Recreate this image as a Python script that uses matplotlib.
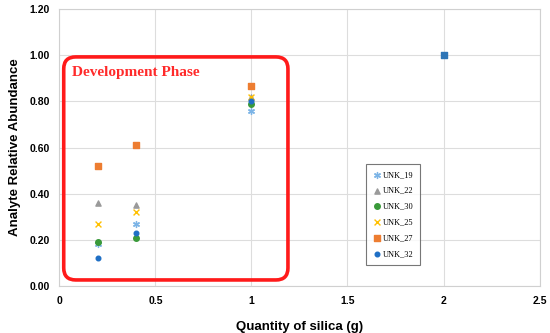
import matplotlib
matplotlib.use("Agg")
import matplotlib.pyplot as plt
from matplotlib.patches import FancyBboxPatch

# silica quantity (g)
silica = [0.2, 0.4, 1.0]

unk_19 = [0.18, 0.27, 0.76]
unk_22 = [0.36, 0.35, 0.82]
unk_30 = [0.19, 0.21, 0.79]
unk_25 = [0.27, 0.32, 0.82]
unk_27 = [0.52, 0.61, 0.865]
unk_32 = [0.12, 0.23, 0.80]

ref_x = [2.0]
ref_y = [1.0]

xticks = [0, 0.5, 1, 1.5, 2, 2.5]
xtick_labels = ["0", "0.5", "1", "1.5", "2", "2.5"]
yticks = [0.0, 0.2, 0.4, 0.6, 0.8, 1.0, 1.2]
ytick_labels = ["0.00", "0.20", "0.40", "0.60", "0.80", "1.00", "1.20"]

fig = plt.figure(figsize=(5.5, 3.33), dpi=100)
ax = fig.add_axes([0.108, 0.141, 0.873, 0.832])

series = [
    ("UNK_19", unk_19, dict(marker=(6, 2, 0), color="#7cb4e6", s=18, linewidths=1.0)),
    ("UNK_22", unk_22, dict(marker="^", color="#9a9a9a", s=14)),
    ("UNK_30", unk_30, dict(marker="o", color="#3a9a3a", s=16)),
    ("UNK_25", unk_25, dict(marker="x", color="#ffc000", s=18, linewidths=1.0)),
    ("UNK_27", unk_27, dict(marker="s", color="#ed7d31", s=14)),
    ("UNK_32", unk_32, dict(marker="o", color="#1f6fc5", s=11)),
]
for name, vals, style in series:
    ax.scatter(silica, vals, label=name, zorder=3, **style)

ax.scatter(ref_x, ref_y, marker="s", color="#2e75b6", s=14, zorder=3)

ax.set_xlim(0, 2.5)
ax.set_ylim(0, 1.2)
ax.set_xticks(xticks)
ax.set_xticklabels(xtick_labels)
ax.set_yticks(yticks)
ax.set_yticklabels(ytick_labels)
ax.grid(True, color="#dddddd", linewidth=0.8)
ax.set_axisbelow(True)
for sp in ax.spines.values():
    sp.set_color("#d0d0d0")
ax.tick_params(length=0, pad=7, labelsize=7.5)
for lab in ax.get_xticklabels() + ax.get_yticklabels():
    lab.set_fontweight("bold")
    lab.set_fontfamily("Liberation Sans")

ax.set_xlabel("Quantity of silica (g)", fontsize=9.5, fontweight="bold",
              fontfamily="Liberation Sans", labelpad=11)
ax.set_ylabel("Analyte Relative Abundance", fontsize=9.5, fontweight="bold",
              fontfamily="Liberation Sans", labelpad=6)

# red rounded box around the development phase
box = FancyBboxPatch((0.009, 0.022), 0.467, 0.805, transform=ax.transAxes,
                     boxstyle="round,pad=0,rounding_size=0.025",
                     mutation_aspect=480 / 277, fill=False,
                     edgecolor="#ff1a1a", linewidth=2.6, zorder=4)
ax.add_patch(box)
ax.text(0.027, 0.772, "Development Phase", transform=ax.transAxes,
        color="#ff2a2a", fontsize=11, fontweight="bold",
        fontfamily="Liberation Serif", va="center", ha="left")

leg = ax.legend(loc="upper left", bbox_to_anchor=(0.638, 0.44),
                prop={"family": "Liberation Serif", "size": 6},
                frameon=True, fancybox=False, edgecolor="#555555",
                labelspacing=0.95, handletextpad=0.2, borderpad=0.8,
                handlelength=1.0, borderaxespad=0)
leg.get_frame().set_linewidth(0.8)

fig.savefig("out.png", dpi=100)
